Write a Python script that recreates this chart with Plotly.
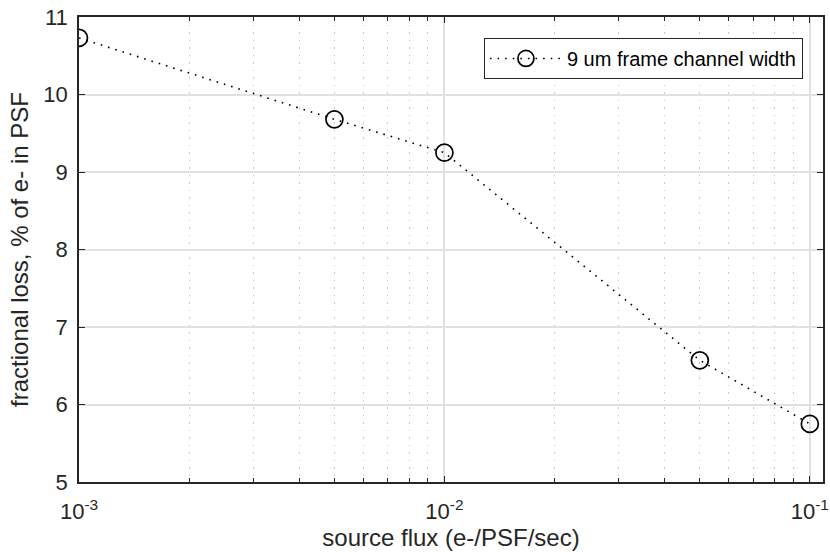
import plotly.graph_objects as go

flux = [0.001, 0.005, 0.01, 0.05, 0.1]
loss = [10.73, 9.68, 9.25, 6.57, 5.75]
series_name = "9 um frame channel width"
x_tickvals = [0.001, 0.01, 0.1]
x_ticktext = ["10<sup>-3</sup>", "10<sup>-2</sup>", "10<sup>-1</sup>"]
x_minor = [m * d for d in (0.001, 0.01) for m in range(2, 10)]
y_tickvals = [5, 6, 7, 8, 9, 10, 11]

fig = go.Figure()
fig.add_trace(go.Scatter(
    x=flux, y=loss, name=series_name, mode="lines+markers",
    line=dict(color="black", width=1.6, dash="1.6px,6px"),
    marker=dict(symbol="circle-open", size=17, color="black", line=dict(width=1.7, color="black")),
))

font = "Liberation Sans, Arial, sans-serif"
axcol = "#262626"
fs_tick = 22
fs_title = 24
fs_leg = 20
fig.update_layout(
    width=830, height=552,
    margin=dict(l=79, r=7, t=17, b=70),
    paper_bgcolor="white", plot_bgcolor="white",
    font=dict(family=font, size=fs_tick, color=axcol),
    showlegend=True,
    legend=dict(x=0.973, y=0.955, xanchor="right", yanchor="top",
                bordercolor=axcol, borderwidth=1, bgcolor="white",
                font=dict(size=fs_leg, color="black"), itemwidth=72,
                tracegroupgap=0),
    xaxis=dict(
        type="log", range=[-3, -0.964], automargin=False,
        tickmode="array", tickvals=x_tickvals, ticktext=x_ticktext,
        ticks="inside", ticklen=6, tickcolor=axcol, tickwidth=1.3,
        showline=True, linecolor=axcol, linewidth=1.5, mirror="ticks",
        showgrid=True, gridcolor="#e1e1e1", gridwidth=1.6,
        minor=dict(tickmode="array", tickvals=x_minor, ticks="inside", ticklen=4,
                   tickcolor=axcol, tickwidth=1.2, showgrid=True, gridcolor="#c9c9c9",
                   griddash="1.5px,6px", gridwidth=1),
        title=dict(text="source flux (e-/PSF/sec)", font=dict(size=fs_title, color=axcol), standoff=0),
        zeroline=False, tickfont=dict(size=fs_tick, color=axcol), ticklabelstandoff=9,
        ticklabeloverflow="allow",
    ),
    yaxis=dict(
        range=[5, 11], tickvals=y_tickvals, automargin=False,
        ticks="inside", ticklen=6, tickcolor=axcol, tickwidth=1.3,
        showline=True, linecolor=axcol, linewidth=1.5, mirror="ticks",
        showgrid=True, gridcolor="#e1e1e1", gridwidth=1.6,
        title=dict(text="fractional loss, % of e- in PSF", font=dict(size=fs_title, color=axcol), standoff=8),
        zeroline=False, tickfont=dict(size=fs_tick, color=axcol), ticklabelstandoff=5,
        ticklabeloverflow="allow",
    ),
)
# remove the browser's default 8px body margin so the figure fills the window exactly
fig.write_html("out.html", config={"displayModeBar": False},
               post_script="document.body.style.margin='0px';")
